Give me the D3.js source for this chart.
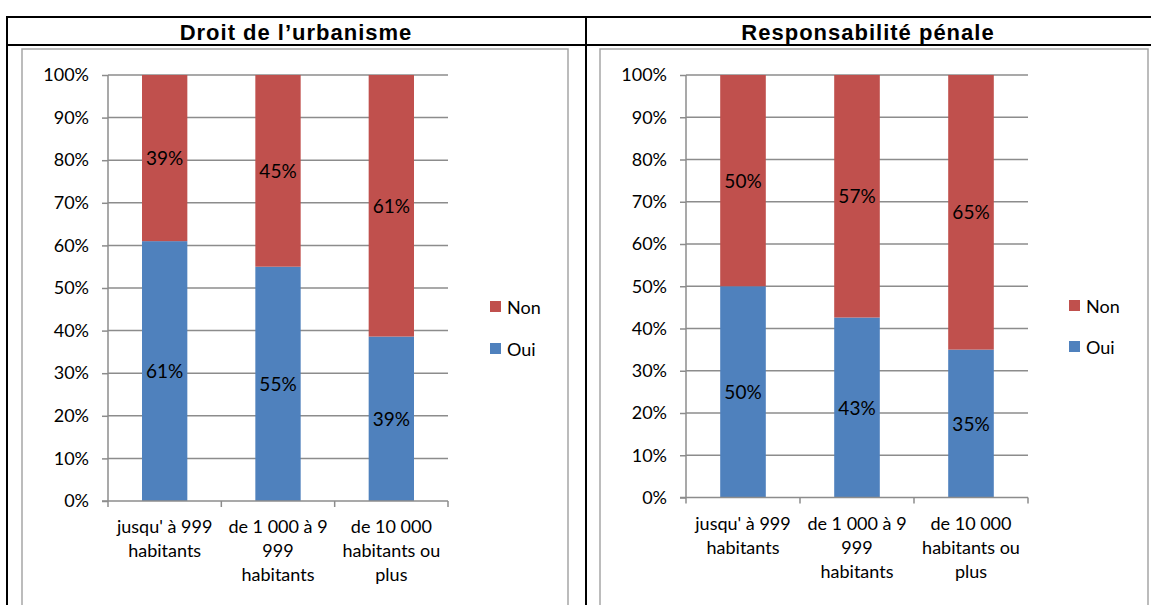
<!DOCTYPE html>
<html><head><meta charset="utf-8">
<script src="https://cdn.jsdelivr.net/npm/d3@7"></script>
<style>
html,body{margin:0;padding:0;background:#fff;}
svg{display:block;}
</style></head>
<body>
<svg id="c" width="1151" height="605"></svg>
<script>
// ---- data ----
const categories = [
  ["jusqu' à 999", "habitants"],
  ["de 1 000 à 9", "999", "habitants"],
  ["de 10 000", "habitants ou", "plus"]
];
const titles = ["Droit de l\u2019urbanisme", "Responsabilité pénale"];
const urbanismeOui = [61, 55, 38.6];
const urbanismeNon = [39, 45, 61.4];
const penaleOui = [50, 42.6, 35];
const penaleNon = [50, 57.4, 65];
const seriesNames = ["Oui", "Non"];
const yTicks = [0, 10, 20, 30, 40, 50, 60, 70, 80, 90, 100];

const colors = {Oui: "#4f81bd", Non: "#c0504d"};
const FONT = "Lato, 'Open Sans', sans-serif";

const svg = d3.select("#c");

// table borders
const tb = svg.append("g").attr("stroke", "#000").attr("stroke-width", 2);
tb.append("line").attr("x1", 7).attr("x2", 1151).attr("y1", 17).attr("y2", 17);
tb.append("line").attr("x1", 7).attr("x2", 1151).attr("y1", 45).attr("y2", 45);
tb.append("line").attr("x1", 7).attr("x2", 7).attr("y1", 16).attr("y2", 605);
tb.append("line").attr("x1", 586).attr("x2", 586).attr("y1", 16).attr("y2", 605);

function drawChart(cfg) {
  const g = svg.append("g");
  // header
  g.append("text").attr("x", cfg.titleX).attr("y", 40)
    .attr("text-anchor", "middle").attr("font-family", "'Liberation Sans', Arial, sans-serif")
    .attr("font-weight", "bold").attr("font-size", 22).attr("letter-spacing", 1).text(cfg.title);
  // chart frame
  g.append("rect").attr("x", cfg.frame[0]).attr("y", 49)
    .attr("width", cfg.frame[1] - cfg.frame[0]).attr("height", 620)
    .attr("fill", "none").attr("stroke", "#a6a6a6").attr("stroke-width", 1.5);

  const x = d3.scaleBand().domain(d3.range(categories.length))
    .range([cfg.x0, cfg.x1]).paddingInner(0.6).paddingOuter(0.3);
  const y = d3.scaleLinear().domain([0, 100]).range([cfg.y0, 75]);

  // gridlines
  g.append("g").selectAll("line").data(yTicks.filter(d => d > 0)).join("line")
    .attr("x1", cfg.x0).attr("x2", cfg.x1)
    .attr("y1", d => y(d)).attr("y2", d => y(d))
    .attr("stroke", "#8c8c8c").attr("stroke-width", 1.5);

  // stacked bars
  const rows = categories.map((c, i) => ({i, Oui: cfg.oui[i], Non: cfg.non[i]}));
  const stack = d3.stack().keys(seriesNames)(rows);
  const bars = g.append("g");
  stack.forEach(layer => {
    bars.selectAll(null).data(layer).join("rect")
      .attr("x", d => x(d.data.i)).attr("width", x.bandwidth())
      .attr("y", d => y(d[1])).attr("height", d => y(d[0]) - y(d[1]))
      .attr("fill", colors[layer.key]);
    bars.selectAll(null).data(layer).join("text")
      .attr("x", d => x(d.data.i) + x.bandwidth() / 2)
      .attr("y", d => (y(d[0]) + y(d[1])) / 2 + 7)
      .attr("text-anchor", "middle").attr("font-family", FONT).attr("font-size", 19)
      .attr("fill", "#000")
      .text(d => Math.round(d[1] - d[0]) + "%");
  });

  // y axis
  const ya = g.append("g").attr("transform", `translate(${cfg.x0},0)`)
    .call(d3.axisLeft(y).tickValues(yTicks).tickFormat(d => d + "%").tickSize(6).tickPadding(13));
  ya.select(".domain").attr("stroke", "#8c8c8c").attr("stroke-width", 1.5).attr("d", `M-0,${cfg.y0}V75`);
  ya.selectAll(".tick line").attr("stroke", "#8c8c8c").attr("stroke-width", 1.5);
  ya.selectAll(".tick text").attr("font-family", FONT).attr("font-size", 18).attr("fill", "#000");

  // x axis
  const xa = g.append("g").attr("transform", `translate(0,${cfg.y0})`);
  xa.append("line").attr("x1", cfg.x0 - 6).attr("x2", cfg.x1).attr("y1", 0).attr("y2", 0)
    .attr("stroke", "#8c8c8c").attr("stroke-width", 1.5);
  const bounds = d3.range(categories.length + 1).map(i => cfg.x0 + i * x.step());
  xa.selectAll(".xt").data(bounds).join("line")
    .attr("x1", d => d).attr("x2", d => d).attr("y1", 0).attr("y2", 6)
    .attr("stroke", "#8c8c8c").attr("stroke-width", 1.5);
  const lab = xa.selectAll(".xl").data(categories).join("text")
    .attr("text-anchor", "middle").attr("font-family", FONT).attr("font-size", 18).attr("fill", "#000")
    .attr("transform", (d, i) => `translate(${x(i) + x.bandwidth() / 2},0)`);
  lab.selectAll("tspan").data(d => d).join("tspan")
    .attr("x", 0).attr("y", (d, j) => 32 + j * 24).text(d => d);

  // legend
  const lg = g.append("g").attr("transform", `translate(${cfg.legendX},0)`);
  const items = [["Non", cfg.legendY[0]], ["Oui", cfg.legendY[1]]];
  items.forEach(([k, yy]) => {
    lg.append("rect").attr("x", 0).attr("y", yy - 6).attr("width", 11).attr("height", 11).attr("fill", colors[k]);
    lg.append("text").attr("x", 17).attr("y", yy + 7).attr("font-family", FONT).attr("font-size", 18).text(k);
  });
}

drawChart({title: titles[0], titleX: 296, frame: [22, 568], x0: 108, x1: 448, y0: 501,
  oui: urbanismeOui, non: urbanismeNon, legendX: 490, legendY: [307, 349]});
drawChart({title: titles[1], titleX: 868, frame: [600, 1148], x0: 686, x1: 1028, y0: 497.5,
  oui: penaleOui, non: penaleNon, legendX: 1069, legendY: [306, 347]});
</script>
</body></html>
